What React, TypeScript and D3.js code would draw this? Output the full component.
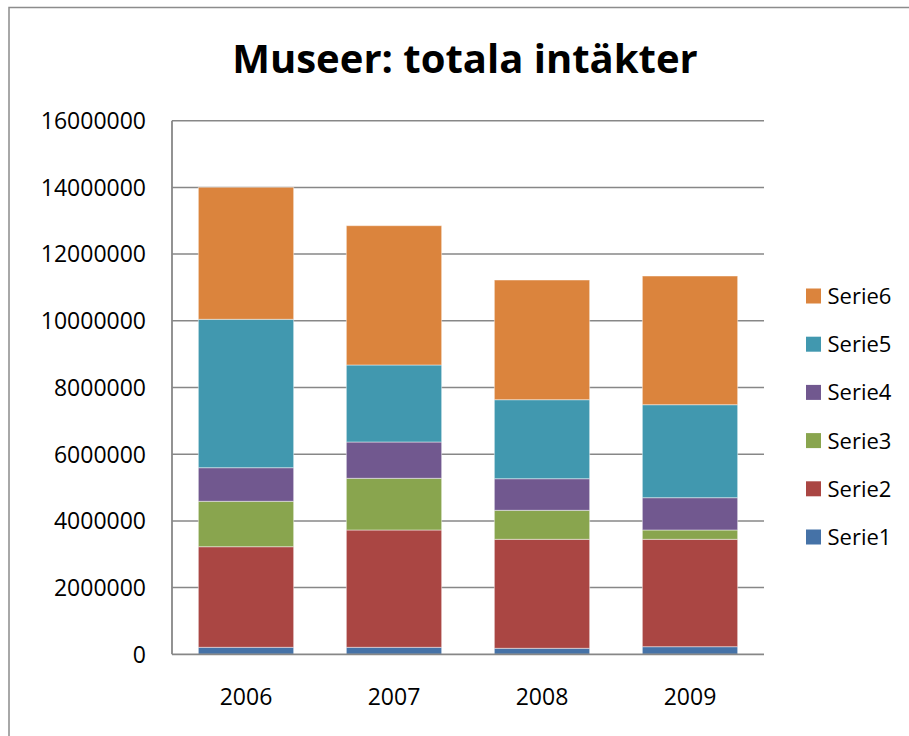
import React from "react";
import * as d3 from "d3";

const categories = ["2006", "2007", "2008", "2009"];
const seriesNames = ["Serie1", "Serie2", "Serie3", "Serie4", "Serie5", "Serie6"];
const serie1 = [210000, 210000, 180000, 228000];
const serie2 = [3016000, 3517000, 3268000, 3220000];
const serie3 = [1362000, 1550000, 870000, 279000];
const serie4 = [1007000, 1089000, 947000, 969000];
const serie5 = [4450000, 2309000, 2369000, 2788000];
const serie6 = [3958000, 4177000, 3589000, 3859000];
const yTicks = [0, 2000000, 4000000, 6000000, 8000000, 10000000, 12000000, 14000000, 16000000];
const colors = ["#4572A7", "#AA4643", "#89A54E", "#71588F", "#4198AF", "#DB843D"];
const title = "Museer: totala intäkter";

const W = 909;
const H = 736;
const plot = { left: 172, right: 764, top: 120.7, bottom: 654.3 };
const FONT = "'Open Sans', sans-serif";

export default function App() {
  const seriesValues = [serie1, serie2, serie3, serie4, serie5, serie6];
  const rows = categories.map((c, i) => {
    const r: Record<string, number | string> = { cat: c };
    seriesNames.forEach((s, k) => (r[s] = seriesValues[k][i]));
    return r;
  });
  const stack = d3.stack<any>().keys(seriesNames)(rows as any);

  const x = d3
    .scaleBand<string>()
    .domain(categories)
    .range([plot.left, plot.right])
    .paddingInner(0.356)
    .paddingOuter(0.178);
  const y = d3.scaleLinear().domain([0, 16000000]).range([plot.bottom, plot.top]);

  const legendItems = seriesNames.map((s, i) => ({ name: s, color: colors[i] })).reverse();

  return (
    <svg
      width={W}
      height={H}
      style={{ position: "absolute", left: 0, top: 0, background: "#fff" }}
      fontFamily={FONT}
    >
      <rect x={0} y={0} width={W} height={H} fill="#fff" />
      <rect x={9} y={7.5} width={W + 20} height={H + 20} fill="none" stroke="#8c8c8c" strokeWidth={1.5} />
      <text x={465} y={73.3} textAnchor="middle" fontSize={40} fontWeight="bold" fill="#000">
        {title}
      </text>
      {yTicks.map((t) => (
        <g key={t}>
          {t > 0 && (
            <line x1={plot.left} x2={plot.right} y1={y(t)} y2={y(t)} stroke="#878787" strokeWidth={1.5} />
          )}
          <text x={146} y={y(t) + 8.3} textAnchor="end" fontSize={23} fill="#000">
            {t}
          </text>
        </g>
      ))}
      {stack.map((layer, k) => (
        <g key={layer.key} fill={colors[k]}>
          {layer.map((d, i) => (
            <rect
              key={i}
              x={x(categories[i])}
              width={x.bandwidth()}
              y={y(d[1])}
              height={y(d[0]) - y(d[1])}
              stroke="rgba(255,255,255,0.45)"
              strokeWidth={1}
            />
          ))}
        </g>
      ))}
      <line x1={plot.left} x2={plot.left} y1={plot.top} y2={plot.bottom} stroke="#878787" strokeWidth={1.8} />
      <line x1={plot.left} x2={plot.right} y1={plot.bottom} y2={plot.bottom} stroke="#878787" strokeWidth={1.8} />
      {categories.map((c) => (
        <text key={c} x={(x(c) as number) + x.bandwidth() / 2} y={705} textAnchor="middle" fontSize={23} fill="#000">
          {c}
        </text>
      ))}
      {legendItems.map((it, i) => (
        <g key={it.name} transform={`translate(806, ${296 + i * 48.2})`}>
          <rect x={0} y={-7.5} width={15} height={15} fill={it.color} />
          <text x={21.5} y={8} fontSize={22} fill="#000">
            {it.name}
          </text>
        </g>
      ))}
    </svg>
  );
}
